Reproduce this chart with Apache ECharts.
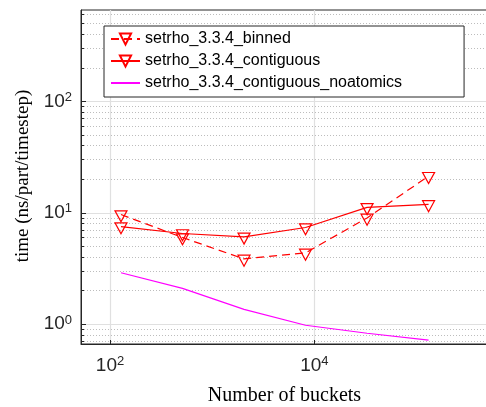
<!DOCTYPE html>
<html><head><meta charset="utf-8">
<script src="https://cdn.jsdelivr.net/npm/echarts@6/dist/echarts.min.js"></script>
<style>html,body{margin:0;padding:0;background:#fff}#c{width:486px;height:407px}</style>
</head><body><div id="c"></div>
<script>
// ---- data ----
const buckets = [128, 512, 2048, 8192, 32768, 131072];
const binned = [9.65, 6.0, 3.86, 4.37, 9.0, 21.3];
const contiguous = [7.53, 6.52, 6.09, 7.38, 11.2, 11.9];
const noatomics = [2.9, 2.1, 1.36, 0.98, 0.83, 0.72];
const seriesNames = ['setrho_3.3.4_binned', 'setrho_3.3.4_contiguous', 'setrho_3.3.4_contiguous_noatomics'];
const xTicks = [100, 10000];
const yTicks = [1, 10, 100];
const yMinorTicks = [0.7, 0.8, 0.9, 2, 3, 4, 5, 6, 7, 8, 9, 20, 30, 40, 50, 60, 70, 80, 90, 200, 300, 400, 500, 600];
const xRange = [52, 500000];
const yRange = [0.665, 660];
const xTitle = 'Number of buckets';
const yTitle = 'time (ns/part/timestep)';

// ---- chart ----
const AX = '#262626';
const sansFont = '"Liberation Sans", Arial, Helvetica, sans-serif';
const serifFont = '"Liberation Serif", "Times New Roman", serif';
function powLabel(v) {
  const e = Math.round(Math.log10(v));
  return '{b|10}{s|' + e + '}';
}
const labelRich = {
  b: { fontSize: 19, fontFamily: sansFont, color: AX },
  s: { fontSize: 13, fontFamily: sansFont, color: AX, padding: [0, 0, 8, 0] }
};
function pts(ys) { return buckets.map((x, i) => [x, ys[i]]); }
const red = '#ff0000';
const markerSeries = (name, ys, dashed) => ({
  name: name, type: 'line', data: pts(ys),
  xAxisIndex: 0, yAxisIndex: 0,
  symbol: 'triangle', symbolRotate: 180, symbolSize: [12, 11], symbolOffset: [0, 1.8],
  showSymbol: true, z: 5,
  lineStyle: { color: red, width: 1.2, type: dashed ? [8, 5] : 'solid' },
  itemStyle: { color: 'rgba(255,255,255,0)', borderColor: red, borderWidth: 1.2 },
  emphasis: { disabled: true }, animation: false
});

const chart = echarts.init(document.getElementById('c'), null, { renderer: 'canvas' });
chart.setOption({
  animation: false,
  backgroundColor: '#fff',
  grid: { left: 81, top: 10, right: -2, bottom: 63, containLabel: false, outerBoundsMode: 'none',
          show: true, borderColor: AX, borderWidth: 1, backgroundColor: '#fff' },
  legend: {
    orient: 'vertical', left: 104, top: 26,
    padding: [5, 62, 6, 6], itemGap: 6, itemWidth: 29, itemHeight: 14,
    backgroundColor: '#fff', borderColor: AX, borderWidth: 1, borderRadius: 0,
    textStyle: { fontFamily: sansFont, fontSize: 16, color: '#000', lineHeight: 16 },
    data: [
      { name: seriesNames[0] },
      { name: seriesNames[1] },
      { name: seriesNames[2], itemStyle: { opacity: 0, color: 'rgba(0,0,0,0)', borderWidth: 0 } }
    ]
  },
  xAxis: [{
    type: 'log', logBase: 10, min: xRange[0], max: xRange[1],
    name: xTitle, nameLocation: 'middle', nameGap: 42,
    nameTextStyle: { fontFamily: serifFont, fontSize: 20, color: '#000' },
    axisLine: { show: true, lineStyle: { color: AX, width: 1 } },
    axisTick: { show: true, inside: true, length: 4, lineStyle: { color: AX }, customValues: xTicks },
    axisLabel: { show: true, margin: 11, formatter: powLabel, rich: labelRich, customValues: xTicks },
    splitLine: { show: true, lineStyle: { color: '#e0e0e0', width: 1.2 } },
    minorTick: { show: false }, minorSplitLine: { show: false }
  }],
  yAxis: [{
    type: 'log', logBase: 10, min: yRange[0], max: yRange[1], position: 'left',
    name: yTitle, nameLocation: 'middle', nameGap: 47,
    nameTextStyle: { fontFamily: serifFont, fontSize: 19, color: '#000', padding: [0, 0, 0, 2] },
    axisLine: { show: true, lineStyle: { color: AX, width: 1 } },
    axisTick: { show: true, inside: true, length: 5, lineStyle: { color: AX }, customValues: yTicks },
    axisLabel: { show: true, margin: 9, formatter: powLabel, rich: labelRich, customValues: yTicks },
    splitLine: { show: true, lineStyle: { color: '#e0e0e0', width: 1.2 } },
    z: 3
  }, {
    type: 'log', logBase: 10, min: yRange[0], max: yRange[1], position: 'left', offset: 0,
    axisLine: { show: false },
    axisTick: { show: true, inside: true, length: 3, lineStyle: { color: AX }, customValues: yMinorTicks },
    axisLabel: { show: false },
    splitLine: { show: true, lineStyle: { color: '#bdbdbd', width: 1, type: [1, 2] } },
    z: 2
  }],
  series: [
    markerSeries(seriesNames[0], binned, true),
    markerSeries(seriesNames[1], contiguous, false),
    {
      name: seriesNames[2], type: 'line', data: pts(noatomics),
      xAxisIndex: 0, yAxisIndex: 0, showSymbol: false, symbol: 'none', z: 4,
      lineStyle: { color: '#ff00ff', width: 1.2 }, itemStyle: { color: '#ff00ff' },
      emphasis: { disabled: true }, animation: false
    }
  ]
});
</script></body></html>
